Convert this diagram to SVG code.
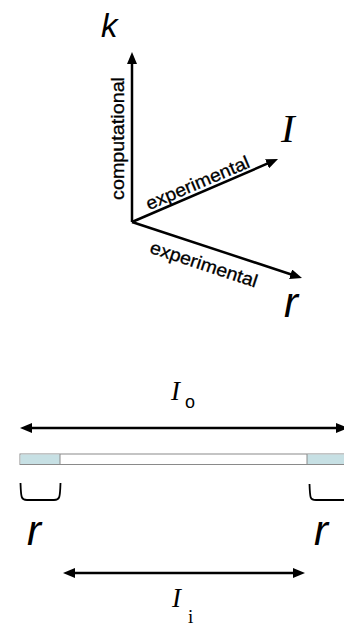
<svg xmlns="http://www.w3.org/2000/svg" width="344" height="631" viewBox="0 0 344 631">
<style>
.ax{stroke:#000;stroke-width:2.5;fill:none}
.lbl{font-family:"Liberation Sans",Arial,sans-serif;font-size:18px;fill:#000;stroke:#000;stroke-width:0.3}
.big{font-family:"Liberation Sans",Arial,sans-serif;font-style:italic;fill:#000}
.ser{font-family:"Liberation Serif","Times New Roman",serif;fill:#000}
.cap{fill:#c7e0e4;stroke:none}
.br{stroke:#000;stroke-width:1.8;fill:none}
</style>
<defs>
<marker id="ah" viewBox="0 0 12 10" markerWidth="12" markerHeight="10" refX="4" refY="5" markerUnits="userSpaceOnUse" orient="auto-start-reverse">
<path d="M0,0 L12,5 L0,10 z" fill="#000"/>
</marker>
</defs>
<g id="connectors">
<line class="ax" x1="132" y1="222" x2="132" y2="60" marker-end="url(#ah)"/>
<line class="ax" x1="132" y1="222" x2="270.7" y2="162.2" marker-end="url(#ah)"/>
<line class="ax" x1="132" y1="222" x2="294.4" y2="275.5" marker-end="url(#ah)"/>
<line class="ax" x1="28" y1="428" x2="340" y2="428" marker-start="url(#ah)" marker-end="url(#ah)"/>
<line class="ax" x1="71" y1="573" x2="297" y2="573" marker-start="url(#ah)" marker-end="url(#ah)"/>
</g>
<g id="axis-k">
<text class="big" x="101" y="37" font-size="33">k</text>
<text class="lbl" transform="translate(123.5,138.5) rotate(-90)" text-anchor="middle" textLength="123" lengthAdjust="spacingAndGlyphs">computational</text>
</g>
<g id="axis-I">
<text class="ser" x="281" y="142" font-size="41" font-style="italic">I</text>
<text class="lbl" transform="translate(200,188.5) rotate(-23)" text-anchor="middle" textLength="111" lengthAdjust="spacingAndGlyphs">experimental</text>
</g>
<g id="axis-r">
<text class="big" x="284" y="317" font-size="42">r</text>
<text class="lbl" transform="translate(202,270) rotate(18.2)" text-anchor="middle" textLength="112" lengthAdjust="spacingAndGlyphs">experimental</text>
</g>
<g id="label-Io">
<text class="ser" x="171" y="400" font-size="27" font-style="italic">I</text>
<text x="185" y="408" font-family="Liberation Sans, Arial, sans-serif" font-size="18">o</text>
</g>
<g id="bar">
<rect x="20" y="454" width="330" height="10.5" fill="#fff" stroke="#8a8a8a" stroke-width="1"/>
<rect class="cap" x="20.5" y="454.5" width="39.5" height="9.5"/>
<rect class="cap" x="307" y="454.5" width="43" height="9.5"/>
<line x1="60" y1="454" x2="60" y2="464.5" stroke="#8a8a8a" stroke-width="1"/>
<line x1="307" y1="454" x2="307" y2="464.5" stroke="#8a8a8a" stroke-width="1"/>
</g>
<g id="bracket-left">
<path class="br" d="M20.5,483 C21,497 21,500 27,500 L54,500 C60,500 60,497 60.5,483"/>
<text class="big" x="27" y="545" font-size="42">r</text>
</g>
<g id="bracket-right">
<path class="br" d="M309.5,484 C310,498 310,500 316,500 L350,500"/>
<text class="big" x="314" y="545" font-size="42">r</text>
</g>
<g id="label-Ii">
<text class="ser" x="172" y="607" font-size="27" font-style="italic">I</text>
<text class="ser" x="188" y="623" font-size="19">i</text>
</g>
</svg>
